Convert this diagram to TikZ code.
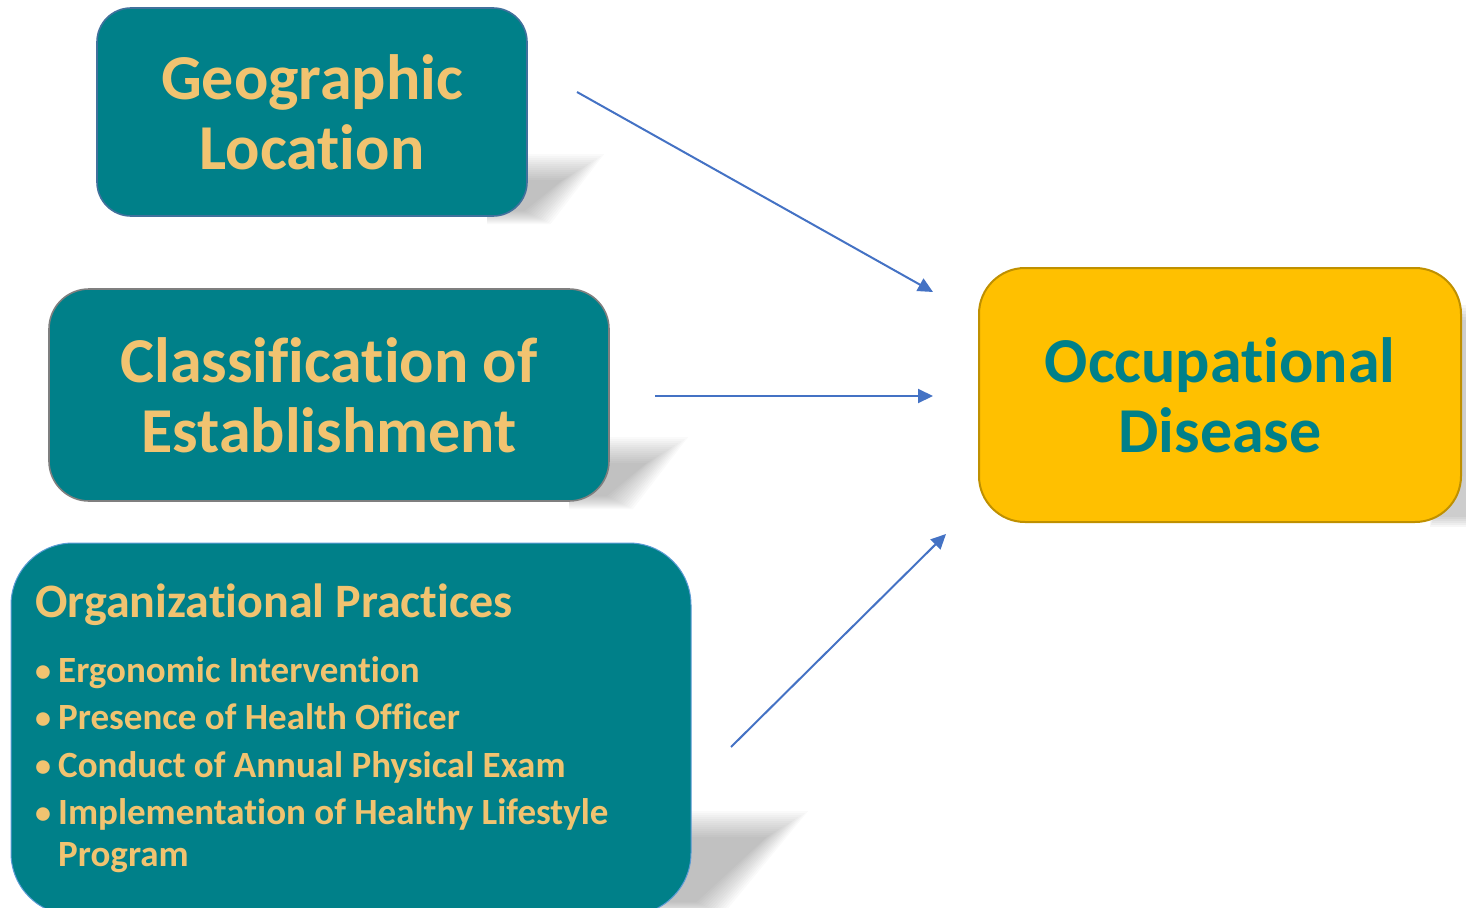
\documentclass[tikz,border=0pt]{standalone}
\usepackage{fontspec}
\setmainfont{Carlito}[RawFeature={-liga;-clig;-calt;-dlig}]
\usetikzlibrary{arrows.meta}

\definecolor{boxteal}{RGB}{0,128,137}
\definecolor{labelgold}{RGB}{241,195,112}
\definecolor{diseasegold}{RGB}{255,192,0}
\definecolor{diseaseedge}{RGB}{191,144,0}
\definecolor{geoedge}{RGB}{65,113,156}
\definecolor{classedge}{RGB}{127,127,127}
\definecolor{orgedge}{RGB}{91,155,213}
\definecolor{linkblue}{RGB}{68,114,196}

% soft perspective shadow behind the lower right corner of a box
% #1 right edge, #2 bottom edge, #3 reach to the right, #4 height
\newcommand\dropshade[4]{%
  \foreach \i in {0,...,13}{%
    \pgfmathsetmacro\d{12-2*\i}%
    \fill[black,opacity=0.018]
      ({#1-40},{#2-#4-\d}) -- ({#1+#3+1.6*\d},{#2-#4-\d})
      -- ({#1+0.2*#3+\d},{#2+2+0.5*\d}) -- ({#1-40},{#2+2+0.5*\d}) -- cycle;
  }%
}

\tikzset{
  tealbox/.style={fill=boxteal, line width=1.6pt, text=labelgold,
    font={\fontsize{64}{70}\selectfont\bfseries}, align=center, inner sep=0pt},
  itemtext/.style={text=labelgold, anchor=base west, inner sep=0pt,
    font={\fontsize{37}{40}\selectfont\bfseries}},
  bullettext/.style={text=labelgold, anchor=base west, inner sep=0pt,
    font={\fontsize{32}{40}\selectfont\bfseries}},
  link/.style={draw=linkblue, line width=2pt,
    -{Triangle[length=15pt,width=14pt]}},
}

\begin{document}
\begin{tikzpicture}[x=1pt,y=-1pt]
\useasboundingbox (0,0) rectangle (1466,907);

% shadows
\dropshade{527}{216}{58}{50}
\dropshade{609}{501}{60}{52}
\dropshade{691}{907}{98}{84}
\foreach \i in {0,...,5}{%
  \fill[black,opacity=0.035] ({1430+\i},{305+\i*3}) rectangle ({1466},{527-\i*2});
}

% boxes
\node[tealbox, draw=geoedge, minimum width=430pt, minimum height=208pt,
  rounded corners=34pt] (geo) at (312,112) {Geographic\\Location};
\node[tealbox, draw=classedge, minimum width=560pt, minimum height=212pt,
  rounded corners=40pt] (cls) at (329,395) {Classification of\\Establishment};
\node[fill=boxteal, draw=orgedge, line width=1pt, minimum width=680pt,
  minimum height=372pt, rounded corners=62pt] (org) at (351,729) {};
\node[fill=diseasegold, draw=diseaseedge, line width=2pt, text=boxteal,
  font={\fontsize{64}{70}\selectfont\bfseries}, align=center, inner sep=0pt,
  minimum width=482pt, minimum height=254pt, rounded corners=46pt]
  (dis) at (1220,395) {Occupational\\Disease};

% list inside the organizational box
\node[text=labelgold, anchor=base west, inner sep=0pt,
  font={\fontsize{48}{50}\selectfont\bfseries}] (orgtitle) at (35,617)
  {Organizational Practices};
\node[bullettext] (b1) at (35,681) {•};
\node[itemtext] (i1) at (58,682) {Ergonomic Intervention};
\node[bullettext] (b2) at (35,728) {•};
\node[itemtext] (i2) at (58,729) {Presence of Health Officer};
\node[bullettext] (b3) at (35,776) {•};
\node[itemtext] (i3) at (58,777) {Conduct of Annual Physical Exam};
\node[bullettext] (b4) at (35,823) {•};
\node[itemtext] (i4) at (58,824) {Implementation of Healthy Lifestyle};
\node[itemtext] (i5) at (58,866) {Program};

% connector ends
\coordinate (s1) at (577,92);
\coordinate (e1) at (933,292);
\coordinate (s2) at (655,396);
\coordinate (e2) at (933,396);
\coordinate (s3) at (731,747);
\coordinate (e3) at (946,534);

\draw[link] (s1) -- (e1);
\draw[link] (s2) -- (e2);
\draw[link] (s3) -- (e3);
\end{tikzpicture}
\end{document}
